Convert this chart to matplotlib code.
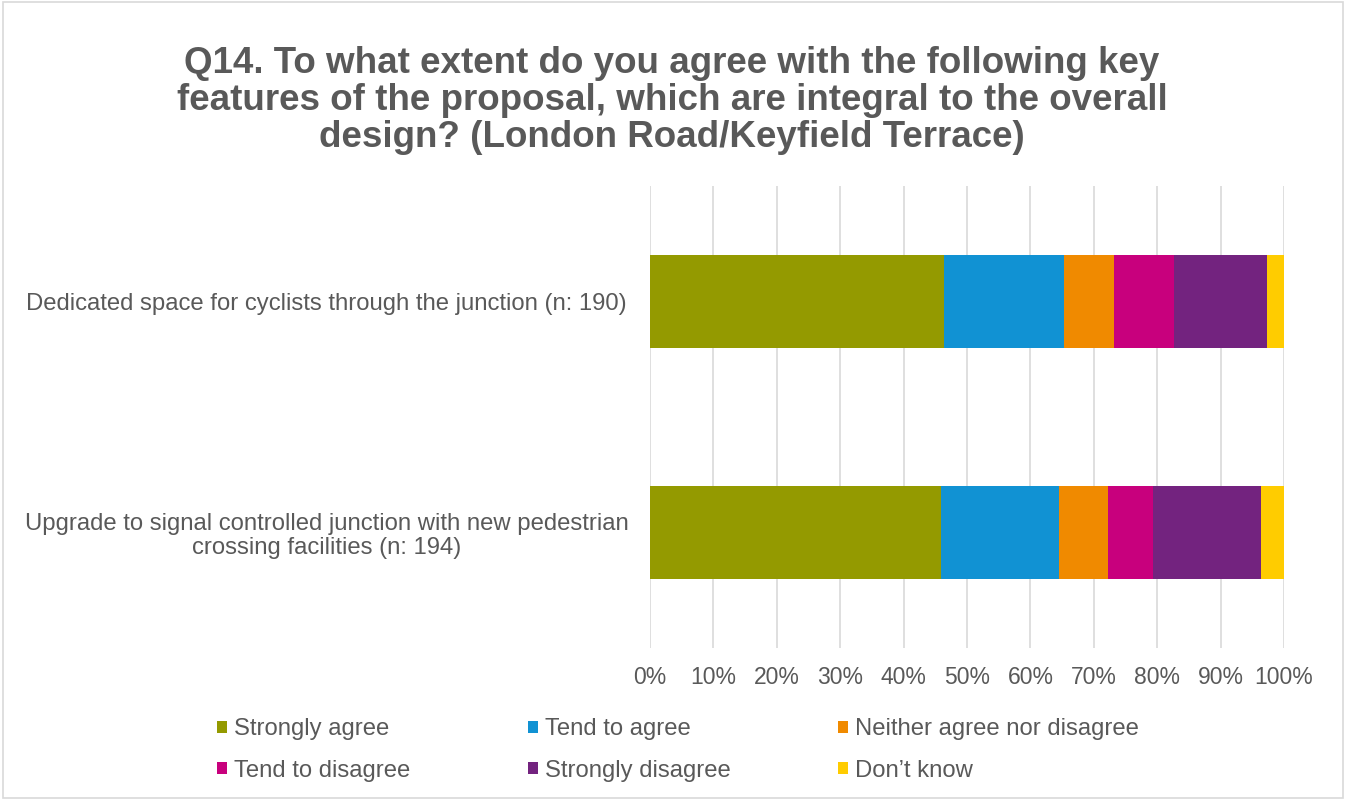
import matplotlib.pyplot as plt
from matplotlib.patches import Rectangle
import numpy as np

plt.rcParams["font.family"] = ["Liberation Sans", "DejaVu Sans"]

# response counts per feature (n: 190 and n: 194)
features = [
    "Dedicated space for cyclists through the junction (n: 190)",
    "Upgrade to signal controlled junction with new pedestrian\ncrossing facilities (n: 194)",
]
responses = ["Strongly agree", "Tend to agree", "Neither agree nor disagree",
             "Tend to disagree", "Strongly disagree", "Don\u2019t know"]
counts_cycle = [88, 36, 15, 18, 28, 5]
counts_signal = [89, 36, 15, 14, 33, 7]
colors = ["#949A00", "#1192D3", "#F08A00", "#C8007D", "#73237F", "#FFCC00"]

counts = np.array([counts_cycle, counts_signal], dtype=float)
shares = counts / counts.sum(axis=1, keepdims=True) * 100

grey = "#595959"
fs = 17.2
fig = plt.figure(figsize=(13.46, 8), dpi=100)
ax = fig.add_axes([650 / 1346, 1 - 648 / 800, 634 / 1346, 462 / 800])

# stacked horizontal bars
y = np.arange(len(features))
left = np.zeros(len(features))
handles = []
for i, label in enumerate(responses):
    bars = ax.barh(y, shares[:, i], left=left, height=0.4, color=colors[i], label=label)
    handles.append(bars)
    left += shares[:, i]

ax.set_ylim(1.5, -0.5)
ax.set_xlim(0, 100)
ax.set_xticks(np.arange(0, 101, 10))
ax.set_xticklabels([f"{t}%" for t in range(0, 101, 10)])
ax.set_yticks(y)
ax.set_yticklabels(features, ha="center", linespacing=1.12)
ax.tick_params(axis="y", length=0, pad=233, labelsize=fs, labelcolor=grey)
ax.tick_params(axis="x", length=0, pad=13, labelsize=16.5, labelcolor=grey)
ax.grid(axis="x", color="#D9D9D9", linewidth=1.2)
ax.set_axisbelow(True)
for s in ax.spines.values():
    s.set_visible(False)

fig.suptitle("Q14. To what extent do you agree with the following key\n"
             "features of the proposal, which are integral to the overall\n"
             "design? (London Road/Keyfield Terrace)",
             x=672 / 1346, y=1 - 46 / 800, fontsize=26.5, fontweight="bold",
             color=grey, linespacing=1.07, va="top")

# legend laid out in three fixed columns, filled row by row
for col, x0 in enumerate([217, 528, 838]):
    fig.legend([handles[col], handles[col + 3]],
               [responses[col], responses[col + 3]],
               loc="center left", bbox_to_anchor=(x0 / 1346, 1 - 750 / 800),
               frameon=False, fontsize=fs, labelcolor=grey,
               handlelength=0.4, handleheight=0.4, handletextpad=0.3,
               labelspacing=0.8, borderpad=0, borderaxespad=0)

# light outline round the whole chart
fig.patches.append(Rectangle((0.002, 0.002), 0.996, 0.996, transform=fig.transFigure,
                             fill=False, edgecolor="#D9D9D9", linewidth=1.2))

fig.savefig("out.png", dpi=100)
